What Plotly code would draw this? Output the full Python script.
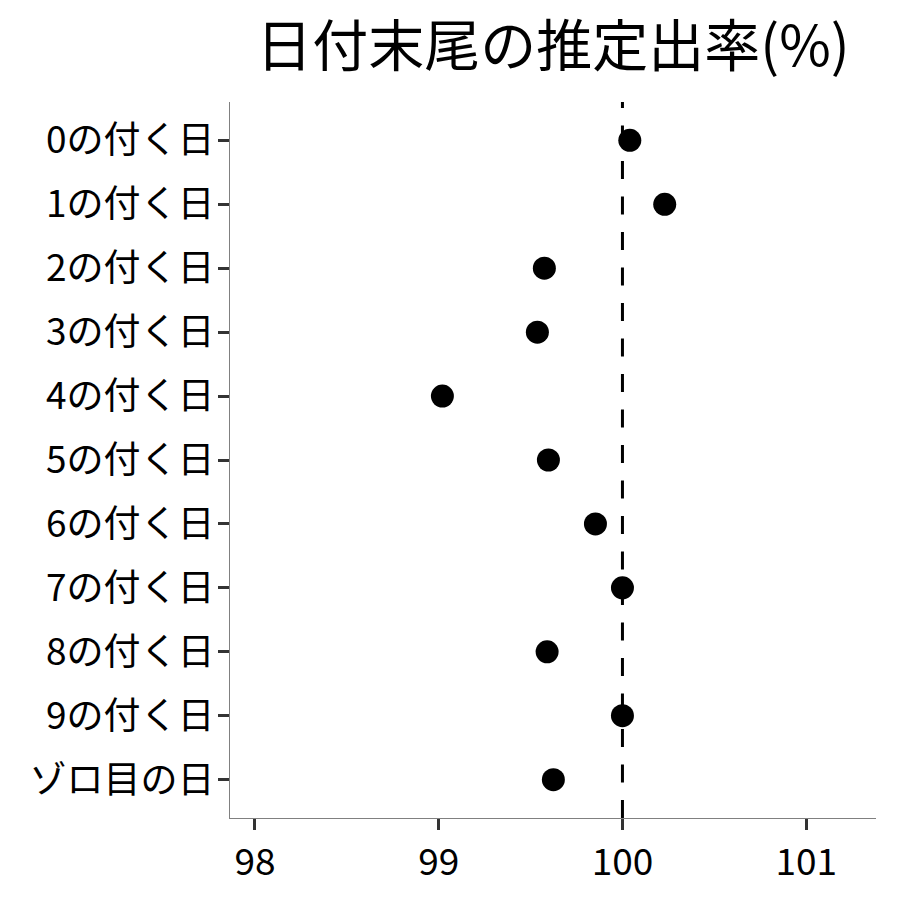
import plotly.graph_objects as go

categories = ["0の付く日", "1の付く日", "2の付く日", "3の付く日", "4の付く日",
              "5の付く日", "6の付く日", "7の付く日", "8の付く日", "9の付く日", "ゾロ目の日"]
rates = [100.04, 100.23, 99.575, 99.537, 99.02, 99.597, 99.853, 100.0, 99.59, 100.0, 99.624]
reference = 100
x_ticks = [98, 99, 100, 101]
title = "日付末尾の推定出率(%)"

FONT = "Noto Sans CJK JP"

fig = go.Figure()
fig.add_trace(go.Scatter(
    x=rates, y=categories, mode="markers",
    marker=dict(color="black", size=23),
    showlegend=False,
))
fig.add_shape(type="line", xref="x", yref="paper",
              x0=reference, x1=reference, y0=0, y1=1,
              line=dict(color="black", width=3, dash="18px,17.5px"), layer="below")

fig.update_layout(
    width=900, height=900,
    paper_bgcolor="white", plot_bgcolor="white",
    margin=dict(l=230, r=24, t=102, b=82),
    font=dict(family=FONT, color="black"),
    title=dict(text=title, x=0.5, xref="paper", xanchor="center",
               y=0.949, yref="container", yanchor="middle",
               font=dict(size=56, family=FONT, color="black")),
)
fig.update_xaxes(
    range=[97.864, 101.38], tickvals=x_ticks, ticktext=[str(v) for v in x_ticks],
    showgrid=False, zeroline=False,
    showline=True, linecolor="#808080", linewidth=1.3,
    ticks="outside", ticklen=11, tickwidth=3, tickcolor="#333333",
    tickfont=dict(size=37, family=FONT, color="black"),
)
fig.update_yaxes(
    categoryorder="array", categoryarray=categories,
    range=[len(categories) - 1 + 0.6, -0.6],
    showgrid=False, zeroline=False,
    showline=True, linecolor="#808080", linewidth=1.3,
    ticks="outside", ticklen=11, tickwidth=3, tickcolor="#333333",
    ticklabelstandoff=-4,
    tickfont=dict(size=37, family=FONT, color="black"),
)

fig.write_html("out.html", config={"displayModeBar": False},
               post_script="document.body.style.margin='0';")
